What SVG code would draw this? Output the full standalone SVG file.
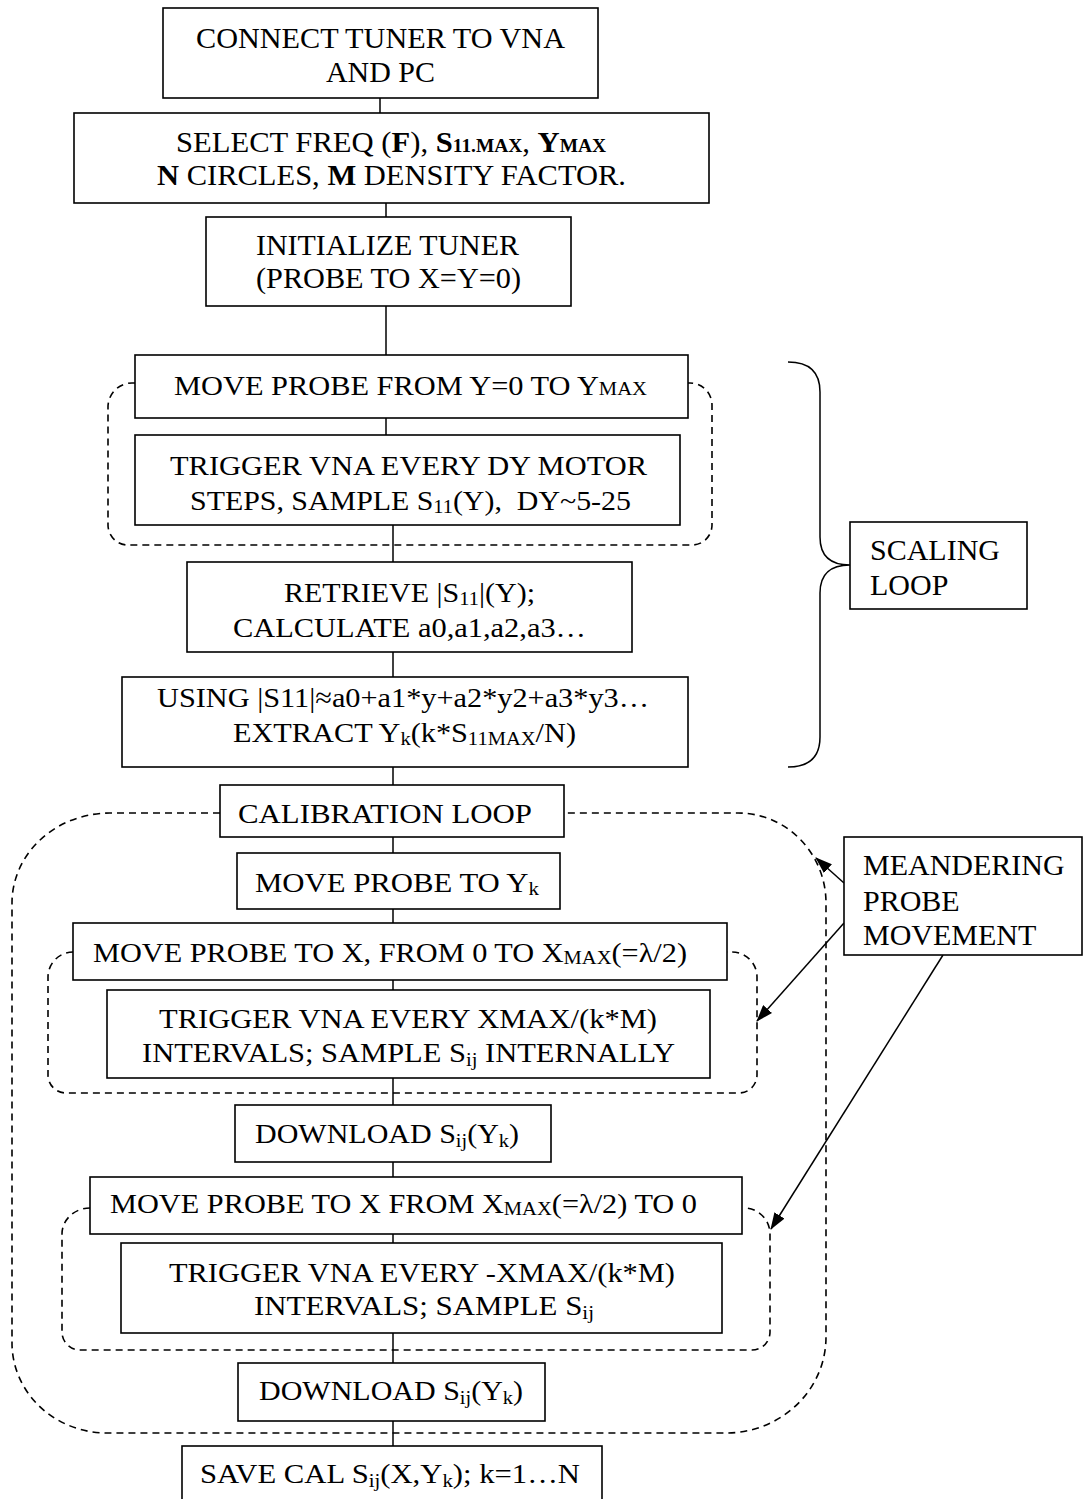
<svg xmlns="http://www.w3.org/2000/svg" width="1083" height="1499" viewBox="0 0 1083 1499">
  <style>
    .box { fill: #fff; stroke: #000; stroke-width: 1.6; }
    .loop { fill: none; stroke: #000; stroke-width: 1.6; stroke-dasharray: 7 5; }
    .wire { fill: none; stroke: #000; stroke-width: 1.5; }
    text { font-family: "Liberation Serif", "Times New Roman", serif; fill: #000; }
    .t30 { font-size: 30px; }
    .t28 { font-size: 28px; }
    .b { font-weight: bold; }
    .sm { font-size: 19px; }
  </style>
  <defs>
    <marker id="ah" markerWidth="17" markerHeight="12" refX="16" refY="6" orient="auto" markerUnits="userSpaceOnUse">
      <path d="M0,0 L17,6 L0,12 Z" fill="#000"/>
    </marker>
  </defs>

  <rect width="1083" height="1499" fill="#fff"/>

  <!-- dashed loop outlines and brace -->
  <g id="loops">
    <path class="loop" d="M135,383 H132 A24,24 0 0 0 108,407 V525 A20,20 0 0 0 128,545 H692 A20,20 0 0 0 712,525 V405 A22,22 0 0 0 690,383 H688"/>
    <path class="loop" d="M220,813 H110 A98,90 0 0 0 12,903 V1343 A95,90 0 0 0 107,1433 H726 A100,96 0 0 0 826,1337 V903 A88,90 0 0 0 738,813 H564"/>
    <path class="loop" d="M73,952 A25,25 0 0 0 48,977 V1075 A18,18 0 0 0 66,1093 H739 A18,18 0 0 0 757,1075 V977 A25,25 0 0 0 732,952 H727"/>
    <path class="loop" d="M90,1208 A28,26 0 0 0 62,1234 V1332 A18,18 0 0 0 80,1350 H752 A18,18 0 0 0 770,1332 V1234 A26,26 0 0 0 744,1208 H743"/>
  </g>

  <!-- connectors -->
  <g id="connectors">
    <path class="wire" d="M380,98 V113"/>
    <path class="wire" d="M386,203 V217"/>
    <path class="wire" d="M386,306 V355"/>
    <path class="wire" d="M386,418 V435"/>
    <path class="wire" d="M393,525 V562"/>
    <path class="wire" d="M393,652 V677"/>
    <path class="wire" d="M393,767 V785"/>
    <path class="wire" d="M393,837 V853"/>
    <path class="wire" d="M393,909 V923"/>
    <path class="wire" d="M393,980 V990"/>
    <path class="wire" d="M393,1078 V1105"/>
    <path class="wire" d="M393,1162 V1177"/>
    <path class="wire" d="M393,1234 V1243"/>
    <path class="wire" d="M393,1333 V1363"/>
    <path class="wire" d="M393,1421 V1446"/>
    <!-- scaling loop brace -->
    <path class="wire" stroke-width="2" d="M788,362 Q820,362 820,392 V537 Q820,565 850,565 Q820,565 820,593 V737 Q820,767 788,767"/>
    <!-- pointers from the meandering note -->
    <path class="wire" marker-end="url(#ah)" d="M844,883 L816,858"/>
    <path class="wire" marker-end="url(#ah)" d="M844,923 L757,1021"/>
    <path class="wire" marker-end="url(#ah)" d="M943,955 L771,1229"/>
  </g>

  <g id="n1">
    <rect class="box" x="163" y="8" width="435" height="90"/>
    <text class="t30" x="196" y="48" textLength="369" lengthAdjust="spacingAndGlyphs">CONNECT TUNER TO VNA</text>
    <text class="t30" x="326" y="82" textLength="109" lengthAdjust="spacingAndGlyphs">AND PC</text>
  </g>

  <g id="n2">
    <rect class="box" x="74" y="113" width="635" height="90"/>
    <text class="t30" x="176" y="152" textLength="430" lengthAdjust="spacingAndGlyphs">SELECT FREQ (<tspan class="b">F</tspan>), <tspan class="b">S<tspan class="sm">11.MAX</tspan></tspan>, <tspan class="b">Y<tspan class="sm">MAX</tspan></tspan></text>
    <text class="t30" x="157" y="185" textLength="469" lengthAdjust="spacingAndGlyphs"><tspan class="b">N</tspan> CIRCLES, <tspan class="b">M</tspan> DENSITY FACTOR.</text>
  </g>

  <g id="n3">
    <rect class="box" x="206" y="217" width="365" height="89"/>
    <text class="t30" x="256" y="255" textLength="263" lengthAdjust="spacingAndGlyphs">INITIALIZE TUNER</text>
    <text class="t30" x="256" y="288" textLength="265" lengthAdjust="spacingAndGlyphs">(PROBE TO X=Y=0)</text>
  </g>

  <g id="n4">
    <rect class="box" x="135" y="355" width="553" height="63"/>
    <text class="t28" x="174" y="395" textLength="473" lengthAdjust="spacingAndGlyphs">MOVE PROBE FROM Y=0 TO Y<tspan class="sm">MAX</tspan></text>
  </g>

  <g id="n5">
    <rect class="box" x="135" y="435" width="545" height="90"/>
    <text class="t28" x="170" y="475" textLength="477" lengthAdjust="spacingAndGlyphs">TRIGGER VNA EVERY DY MOTOR</text>
    <text class="t28" x="190" y="510" textLength="441" lengthAdjust="spacingAndGlyphs">STEPS, SAMPLE S<tspan class="sm" dy="3">11</tspan><tspan dy="-3">(Y),&#160; DY~5-25</tspan></text>
  </g>

  <g id="n6">
    <rect class="box" x="187" y="562" width="445" height="90"/>
    <text class="t28" x="284" y="602" textLength="251" lengthAdjust="spacingAndGlyphs">RETRIEVE |S<tspan class="sm" dy="3">11</tspan><tspan dy="-3">|(Y);</tspan></text>
    <text class="t28" x="233" y="637" textLength="353" lengthAdjust="spacingAndGlyphs">CALCULATE a0,a1,a2,a3…</text>
  </g>

  <g id="n7">
    <rect class="box" x="122" y="677" width="566" height="90"/>
    <text class="t28" x="157" y="707" textLength="492" lengthAdjust="spacingAndGlyphs">USING |S11|≈a0+a1*y+a2*y2+a3*y3…</text>
    <text class="t28" x="233" y="742" textLength="343" lengthAdjust="spacingAndGlyphs">EXTRACT Y<tspan class="sm" dy="3">k</tspan><tspan dy="-3">(k*S</tspan><tspan class="sm" dy="3">11MAX</tspan><tspan dy="-3">/N)</tspan></text>
  </g>

  <g id="n8">
    <rect class="box" x="220" y="785" width="344" height="52"/>
    <text class="t28" x="238" y="823" textLength="294" lengthAdjust="spacingAndGlyphs">CALIBRATION LOOP</text>
  </g>

  <g id="n9">
    <rect class="box" x="237" y="853" width="323" height="56"/>
    <text class="t28" x="255" y="892" textLength="284" lengthAdjust="spacingAndGlyphs">MOVE PROBE TO Y<tspan class="sm" dy="3">k</tspan></text>
  </g>

  <g id="n10">
    <rect class="box" x="73" y="923" width="654" height="57"/>
    <text class="t28" x="93" y="962" textLength="594" lengthAdjust="spacingAndGlyphs">MOVE PROBE TO X, FROM 0 TO X<tspan class="sm" dy="2">MAX</tspan><tspan dy="-2">(=λ/2)</tspan></text>
  </g>

  <g id="n11">
    <rect class="box" x="107" y="990" width="603" height="88"/>
    <text class="t28" x="159" y="1028" textLength="498" lengthAdjust="spacingAndGlyphs">TRIGGER VNA EVERY XMAX/(k*M)</text>
    <text class="t28" x="142" y="1062" textLength="533" lengthAdjust="spacingAndGlyphs">INTERVALS; SAMPLE S<tspan class="sm" dy="4">ij</tspan><tspan dy="-4"> INTERNALLY</tspan></text>
  </g>

  <g id="n12">
    <rect class="box" x="235" y="1105" width="316" height="57"/>
    <text class="t28" x="255" y="1143" textLength="264" lengthAdjust="spacingAndGlyphs">DOWNLOAD S<tspan class="sm" dy="4">ij</tspan><tspan dy="-4">(Y</tspan><tspan class="sm" dy="4">k</tspan><tspan dy="-4">)</tspan></text>
  </g>

  <g id="n13">
    <rect class="box" x="90" y="1177" width="652" height="57"/>
    <text class="t28" x="110" y="1213" textLength="587" lengthAdjust="spacingAndGlyphs">MOVE PROBE TO X FROM X<tspan class="sm" dy="2">MAX</tspan><tspan dy="-2">(=λ/2) TO 0</tspan></text>
  </g>

  <g id="n14">
    <rect class="box" x="121" y="1243" width="601" height="90"/>
    <text class="t28" x="169" y="1282" textLength="506" lengthAdjust="spacingAndGlyphs">TRIGGER VNA EVERY -XMAX/(k*M)</text>
    <text class="t28" x="254" y="1315" textLength="340" lengthAdjust="spacingAndGlyphs">INTERVALS; SAMPLE S<tspan class="sm" dy="4">ij</tspan></text>
  </g>

  <g id="n15">
    <rect class="box" x="238" y="1363" width="307" height="58"/>
    <text class="t28" x="259" y="1400" textLength="264" lengthAdjust="spacingAndGlyphs">DOWNLOAD S<tspan class="sm" dy="4">ij</tspan><tspan dy="-4">(Y</tspan><tspan class="sm" dy="4">k</tspan><tspan dy="-4">)</tspan></text>
  </g>

  <g id="n16">
    <rect class="box" x="182" y="1446" width="420" height="70"/>
    <text class="t28" x="200" y="1483" textLength="380" lengthAdjust="spacingAndGlyphs">SAVE CAL S<tspan class="sm" dy="4">ij</tspan><tspan dy="-4">(X,Y</tspan><tspan class="sm" dy="4">k</tspan><tspan dy="-4">); k=1…N</tspan></text>
  </g>

  <g id="scaling-note">
    <rect class="box" x="850" y="522" width="177" height="87"/>
    <text class="t30" x="870" y="560">SCALING</text>
    <text class="t30" x="870" y="595">LOOP</text>
  </g>

  <g id="meander-note">
    <rect class="box" x="844" y="837" width="238" height="118"/>
    <text class="t30" x="863" y="875">MEANDERING</text>
    <text class="t30" x="863" y="911">PROBE</text>
    <text class="t30" x="863" y="945">MOVEMENT</text>
  </g>
</svg>
